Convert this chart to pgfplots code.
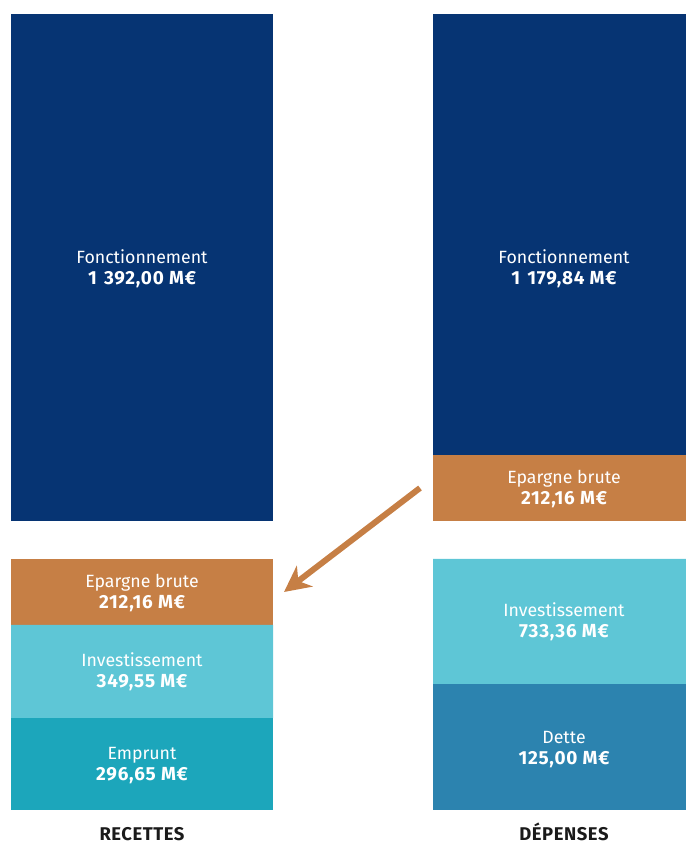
\documentclass[border=0pt]{standalone}
\usepackage{pgfplots}
\pgfplotsset{compat=1.18}
\usepackage{pgfplotstable}
\usepackage{fontspec}
\setmainfont{Fira Sans}
\usetikzlibrary{arrows.meta}
\definecolor{navy}{HTML}{063473}
\definecolor{orng}{HTML}{C67F45}
\definecolor{lcyan}{HTML}{5EC6D6}
\definecolor{teal2}{HTML}{1CA6BB}
\definecolor{blue2}{HTML}{2C83AF}
\definecolor{txt}{HTML}{1A1A1A}
% drawn heights (px) of each block; x = bar centre
\pgfplotstableread{
x   recfonc depep depfonc
142 507     0     0
564 0       66    441
}\toptable
\pgfplotstableread{
x   emprunt dette invest epargne
142 92      0     93     66
564 0       126   125    0
}\bottable
\newcommand{\nm}[1]{{\fontsize{17.8}{20}\selectfont #1}}
\newcommand{\vl}[1]{{\fontsize{19}{20}\selectfont\bfseries\addfontfeature{LetterSpace=4}#1}}
\begin{document}
\begin{tikzpicture}[x=1bp,y=1bp]
\useasboundingbox (0,0) rectangle (686,845);
\pgfplotsset{blk/.style={hide axis, scale only axis, width=686bp, xmin=0, xmax=686, ymin=0,
  enlargelimits=false, ybar stacked, bar width=262, clip=false,
  every axis plot/.append style={draw=none}}}
\begin{axis}[blk, height=507bp, ymax=507, at={(0,324)}, anchor=south west]
\addplot[fill=navy] table[x=x,y=recfonc]{\toptable};
\addplot[fill=orng] table[x=x,y=depep]{\toptable};
\addplot[fill=navy] table[x=x,y=depfonc]{\toptable};
\end{axis}
\begin{axis}[blk, height=251bp, ymax=251, at={(0,35)}, anchor=south west]
\addplot[fill=teal2] table[x=x,y=emprunt]{\bottable};
\addplot[fill=blue2] table[x=x,y=dette]{\bottable};
\addplot[fill=lcyan] table[x=x,y=invest]{\bottable};
\addplot[fill=orng] table[x=x,y=epargne]{\bottable};
\end{axis}
\tikzset{lbl/.style={text=white, anchor=base, inner sep=0pt}}
\newcommand{\twol}[4]{%
  \node[lbl] at (#1,845-#2-6.5) {\nm{#3}};
  \node[lbl] at (#1,845-#2-22-5.5) {\vl{#4}};}
\twol{142}{257}{Fonctionnement}{1\hspace{2bp} 392,00 M€}
\twol{564}{257}{Fonctionnement}{1\hspace{2bp} 179,84 M€}
\twol{564}{477}{Epargne brute}{212,16 M€}
\twol{142}{581}{Epargne brute}{212,16 M€}
\twol{142}{660}{Investissement}{349,55 M€}
\twol{142}{753}{Emprunt}{296,65 M€}
\twol{564}{610}{Investissement}{733,36 M€}
\twol{564}{737}{Dette}{125,00 M€}
\node[text=txt, anchor=base, inner sep=0pt, font=\fontsize{18.5}{20}\selectfont\bfseries\addfontfeature{LetterSpace=3}] at (142,4) {RECETTES};
\node[text=txt, anchor=base, inner sep=0pt, font=\fontsize{18.5}{20}\selectfont\bfseries\addfontfeature{LetterSpace=3}] at (564,4) {DÉPENSES};
\draw[orng, line width=6bp, -{Stealth[length=26bp,width=26bp,inset=8bp]}] (420,845-488) -- (284,845-592);
\end{tikzpicture}
\end{document}
